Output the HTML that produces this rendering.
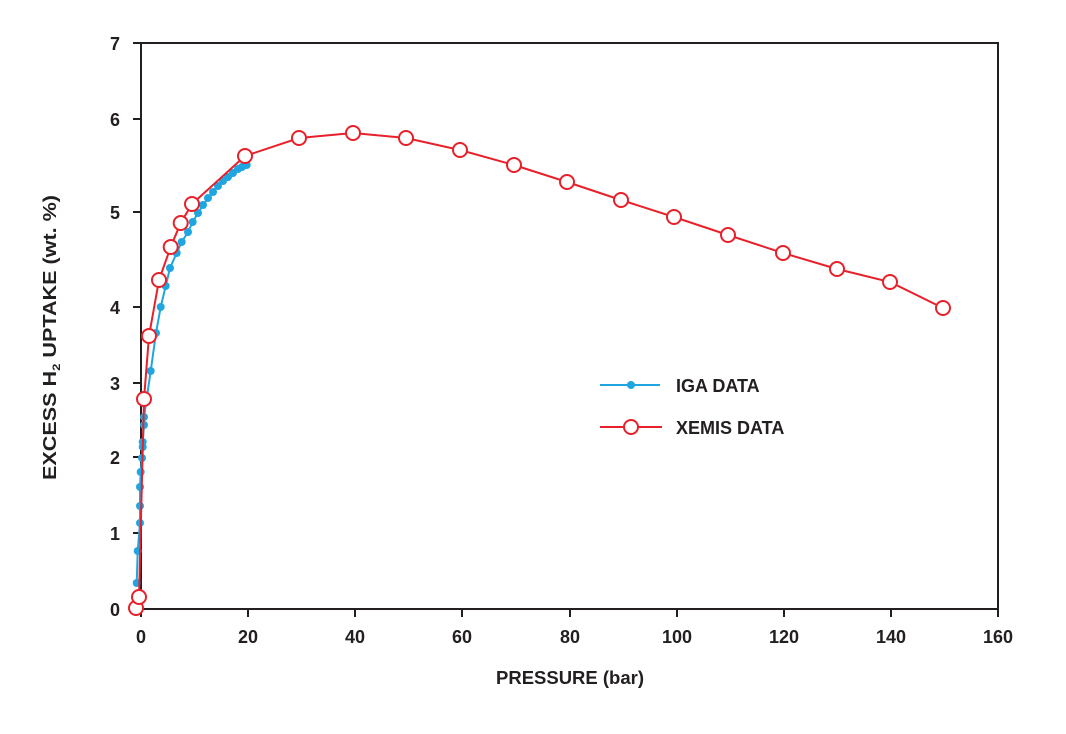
<!DOCTYPE html>
<html><head><meta charset="utf-8"><style>
html,body{margin:0;padding:0;background:#fff;}
svg text{font-family:"Liberation Sans",sans-serif;fill:#231f20;font-weight:bold;}
</style></head><body>
<svg width="1066" height="729" viewBox="0 0 1066 729" xmlns="http://www.w3.org/2000/svg">
<rect x="141" y="43" width="857" height="566" fill="none" stroke="#231f20" stroke-width="2"/>
<g stroke="#231f20" stroke-width="2">
<line x1="133" y1="43" x2="141" y2="43"/><line x1="133" y1="119" x2="141" y2="119"/><line x1="133" y1="212" x2="141" y2="212"/><line x1="133" y1="307" x2="141" y2="307"/><line x1="133" y1="383" x2="141" y2="383"/><line x1="133" y1="457" x2="141" y2="457"/><line x1="133" y1="533" x2="141" y2="533"/>
<line x1="141" y1="609" x2="141" y2="617"/><line x1="248" y1="609" x2="248" y2="617"/><line x1="355" y1="609" x2="355" y2="617"/><line x1="462" y1="609" x2="462" y2="617"/><line x1="570" y1="609" x2="570" y2="617"/><line x1="677" y1="609" x2="677" y2="617"/><line x1="784" y1="609" x2="784" y2="617"/><line x1="891" y1="609" x2="891" y2="617"/><line x1="998" y1="609" x2="998" y2="617"/>
</g>
<g font-size="18" text-anchor="end">
<text x="120" y="50">7</text><text x="120" y="126">6</text><text x="120" y="219">5</text><text x="120" y="314">4</text><text x="120" y="390">3</text><text x="120" y="464">2</text><text x="120" y="540">1</text><text x="120" y="616">0</text>
</g>
<g font-size="18" text-anchor="middle">
<text x="141" y="643">0</text><text x="248" y="643">20</text><text x="355" y="643">40</text><text x="462" y="643">60</text><text x="570" y="643">80</text><text x="677" y="643">100</text><text x="784" y="643">120</text><text x="891" y="643">140</text><text x="998" y="643">160</text>
</g>
<text x="496" y="684" font-size="18" textLength="148" lengthAdjust="spacingAndGlyphs">PRESSURE (bar)</text>
<text transform="translate(56,480) rotate(-90)" font-size="18" textLength="285" lengthAdjust="spacingAndGlyphs">EXCESS H<tspan font-size="11" dy="4">2</tspan><tspan dy="-4"> UPTAKE (wt. %)</tspan></text>
<polyline fill="none" stroke="#1fa6e0" stroke-width="2" points="136.7,583 137.7,551 140,523 140,506 140,487 140.7,472 142,458 142.7,447 142.7,442 144,425 144,417 150.7,371 156,333 160.7,307 165.7,286 170,268 176.7,253 181.7,242 188,232 192.7,222 198,213 203,205 208,198 213,192 218,186 223,181 228,177 233,173 238,169 242,167 246.7,165"/>
<g fill="#1fa6e0">
<circle cx="136.7" cy="583" r="4"/><circle cx="137.7" cy="551" r="4"/><circle cx="140" cy="523" r="4"/><circle cx="140" cy="506" r="4"/><circle cx="140" cy="487" r="4"/><circle cx="140.7" cy="472" r="4"/><circle cx="142" cy="458" r="4"/><circle cx="142.7" cy="447" r="4"/><circle cx="142.7" cy="442" r="4"/><circle cx="144" cy="425" r="4"/><circle cx="144" cy="417" r="4"/><circle cx="150.7" cy="371" r="4"/><circle cx="156" cy="333" r="4"/><circle cx="160.7" cy="307" r="4"/><circle cx="165.7" cy="286" r="4"/><circle cx="170" cy="268" r="4"/><circle cx="176.7" cy="253" r="4"/><circle cx="181.7" cy="242" r="4"/><circle cx="188" cy="232" r="4"/><circle cx="192.7" cy="222" r="4"/><circle cx="198" cy="213" r="4"/><circle cx="203" cy="205" r="4"/><circle cx="208" cy="198" r="4"/><circle cx="213" cy="192" r="4"/><circle cx="218" cy="186" r="4"/><circle cx="223" cy="181" r="4"/><circle cx="228" cy="177" r="4"/><circle cx="233" cy="173" r="4"/><circle cx="238" cy="169" r="4"/><circle cx="242" cy="167" r="4"/><circle cx="246.7" cy="165" r="4"/>
</g>
<polyline fill="none" stroke="#e8202a" stroke-width="2" points="136,608 139,597 144,399 149,336 159,280 170.7,247 180.7,223 192,204 245,156 299,138 353,133 406,138 460,150 514,165 567,182 621,200 674,217 728,235 783,253 837,269 890,282 943,308"/>
<g fill="#fff" stroke="#e8202a" stroke-width="2">
<circle cx="136" cy="608" r="7"/><circle cx="139" cy="597" r="7"/><circle cx="144" cy="399" r="7"/><circle cx="149" cy="336" r="7"/><circle cx="159" cy="280" r="7"/><circle cx="170.7" cy="247" r="7"/><circle cx="180.7" cy="223" r="7"/><circle cx="192" cy="204" r="7"/><circle cx="245" cy="156" r="7"/><circle cx="299" cy="138" r="7"/><circle cx="353" cy="133" r="7"/><circle cx="406" cy="138" r="7"/><circle cx="460" cy="150" r="7"/><circle cx="514" cy="165" r="7"/><circle cx="567" cy="182" r="7"/><circle cx="621" cy="200" r="7"/><circle cx="674" cy="217" r="7"/><circle cx="728" cy="235" r="7"/><circle cx="783" cy="253" r="7"/><circle cx="837" cy="269" r="7"/><circle cx="890" cy="282" r="7"/><circle cx="943" cy="308" r="7"/>
</g>
<line x1="600" y1="385" x2="660" y2="385" stroke="#1fa6e0" stroke-width="2"/>
<circle cx="631" cy="385" r="4" fill="#1fa6e0"/>
<line x1="600" y1="427" x2="662" y2="427" stroke="#e8202a" stroke-width="2"/>
<circle cx="631" cy="427" r="7" fill="#fff" stroke="#e8202a" stroke-width="2"/>
<text x="676" y="392" font-size="18">IGA DATA</text>
<text x="676" y="434" font-size="18">XEMIS DATA</text>
</svg>
</body></html>
